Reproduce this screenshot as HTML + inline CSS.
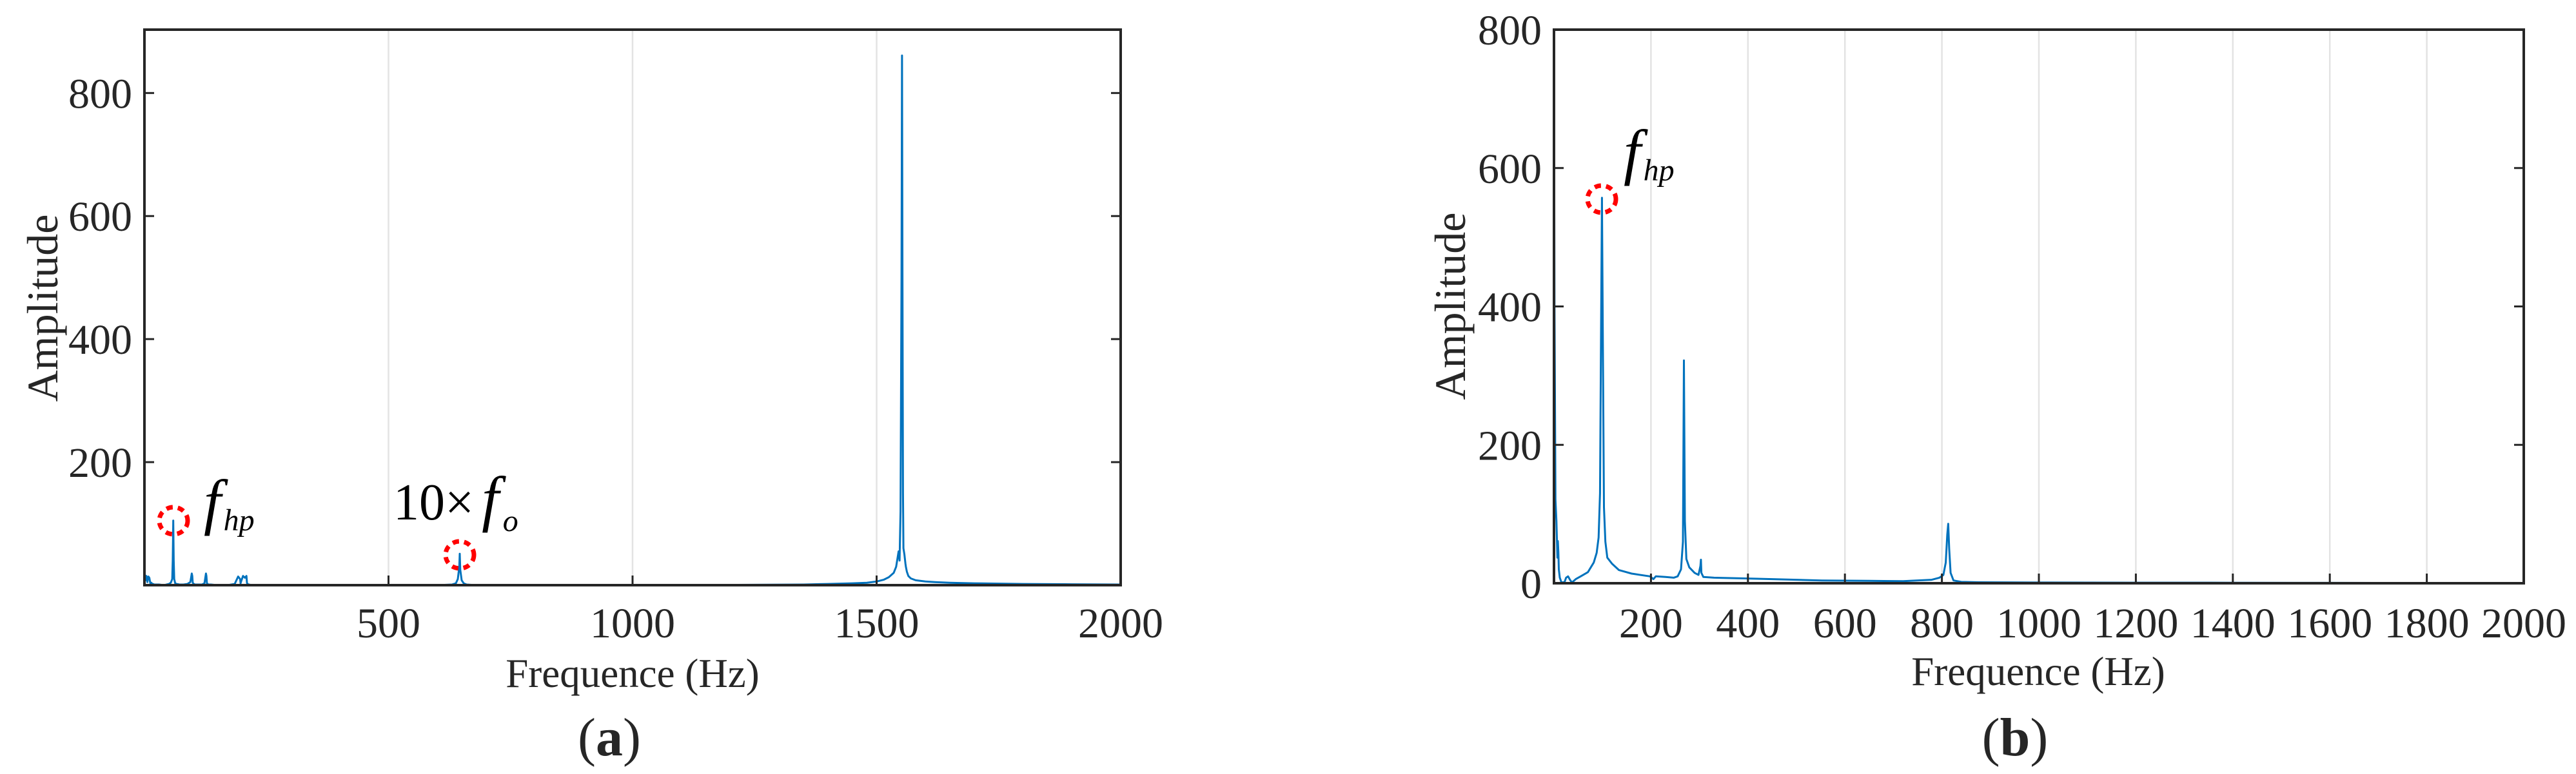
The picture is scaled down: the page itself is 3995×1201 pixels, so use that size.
<!DOCTYPE html>
<html><head><meta charset="utf-8">
<style>
html,body{margin:0;padding:0;background:#fff;}
svg{display:block;}
text{font-family:"Liberation Serif",serif;fill:#262626;}
</style></head>
<body>
<svg id="root" width="3995" height="1201" viewBox="0 0 3995 1201" xmlns="http://www.w3.org/2000/svg">
<g id="ga"></g>
<g id="gb"></g>
</svg>
<script>
// Panel (a) data
const freqA=[0,0.5,2,4,6,8,10,12,14,16,18,20,24,30,40,50,54,57,58,59,60,61,63,66,72,80,88,94,97,98,99,101,104,110,118,123,126,127,128,131,136,150,170,185,192,196,197,198,202,206,209,210,211,214,220,240,300,400,500,600,630,638,642,645,646,647,650,654,660,680,800,1000,1200,1350,1400,1450,1480,1500,1515,1525,1535,1540,1545,1547,1549,1551,1552,1553,1554,1555,1557,1559,1560,1562,1565,1570,1580,1600,1620,1650,1700,1800,1900,2000];
const ampA=[386,20,8,15,5,14,12,3,4,2,2,1,1,1,0,2,4,10,40,105,40,10,3,2,1,1,2,5,19,15,4,2,1,1,1,3,19,15,3,1,1,0,0,2,14,10,3,6,15,12,15,4,2,1,0,0,0,0,0,0,1,3,10,30,51,25,8,3,1,0,0,0,0.5,1,2,3,4,6,9,13,20,30,55,40,120,500,861,500,150,60,50,35,30,22,15,11,8,6,5,4,3,2,1.5,1];
const xTicksA=[500,1000,1500,2000];
const yTicksA=[200,400,600,800];
// Panel (b) data
const freqB=[0,1,3,5,7,8,9,10,12,15,18,22,25,29,33,37,45,55,70,82,88,92,95,97,99,101,103,106,110,120,134,160,198,205,210,230,247,255,262,266,268,270,273,279,290,298,302,303,304,308,330,392,450,553,650,720,779,795,803,808,811,813,815,818,824,840,876,1000,1200,1400,1600,1800,2000];
const ampB=[800,400,121,90,37,61,45,20,8,2,1,2,8,10,5,1,6,10,16,30,44,66,130,350,557,320,110,60,37,28,19,14,10,6,10,9,8,10,20,60,322,90,35,23,15,12,25,34,15,9,8,7,6,4,3.5,3,5,8,12,30,70,86,50,15,4,2,1.4,1,0.8,0.7,0.6,0.5,0.5];
const xTicksB=[200,400,600,800,1000,1200,1400,1600,1800,2000];
const yTicksB=[0,200,400,600,800];

const NS='http://www.w3.org/2000/svg';
function mk(parent,tag,attrs,txt){const e=document.createElementNS(NS,tag);for(const k in attrs)e.setAttribute(k,attrs[k]);if(txt!==undefined)e.textContent=txt;parent.appendChild(e);return e;}

function panel(g,cfg){
  const {L,R,T,B,xmax,ymax,freq,amp,xt,yt}=cfg;
  const sx=v=>L+(v/xmax)*(R-L);
  const sy=v=>B-(v/ymax)*(B-T);
  xt.forEach(v=>{ if(v<xmax){const l=mk(g,'line',{x1:sx(v),x2:sx(v),y1:T,y2:B,stroke:'#e3e3e3','stroke-width':2.5});
    
    }});
  let d='';
  freq.forEach((f,i)=>{d+=(i?'L':'M')+sx(f).toFixed(1)+','+sy(Math.min(amp[i],ymax)).toFixed(1);});
  const p=mk(g,'path',{d:d,fill:'none',stroke:'#0072BD','stroke-width':3,'stroke-linejoin':'round'});
  
  
  const bx=mk(g,'rect',{x:L,y:T,width:R-L,height:B-T,fill:'none',stroke:'#262626','stroke-width':4});
  
  
  yt.forEach(v=>{
    const y=sy(v);
    const t1=mk(g,'line',{x1:L,x2:L+15,y1:y,y2:y,stroke:'#262626','stroke-width':3});
    
    
    const t2=mk(g,'line',{x1:R,x2:R-15,y1:y,y2:y,stroke:'#262626','stroke-width':3});
    
    
    const lb=mk(g,'text',{x:cfg.ylabX,y:y+23,'text-anchor':'end','font-size':66},String(v));
    
    
  });
  xt.forEach(v=>{
    const x=sx(v);
    const t=mk(g,'line',{x1:x,x2:x,y1:B,y2:B-15,stroke:'#262626','stroke-width':3});
    
    
    const lb=mk(g,'text',{x:x,y:989,'text-anchor':'middle','font-size':66},String(v));
    
    
  });
}

panel(document.getElementById('ga'),{L:224,R:1738,T:46,B:908,xmax:2000,ymax:903,freq:freqA,amp:ampA,xt:xTicksA,yt:yTicksA,ylabX:205});
panel(document.getElementById('gb'),{L:2410,R:3914,T:46,B:905,xmax:2000,ymax:800,freq:freqB,amp:ampB,xt:xTicksB,yt:yTicksB,ylabX:2391});
</script>
<svg width="3995" height="1201" style="position:absolute;left:0;top:0" xmlns="http://www.w3.org/2000/svg">
<text x="67" y="478" font-size="68" text-anchor="middle" transform="rotate(-90 67 478)" dy="22">Amplitude</text>
<text x="981" y="1066" font-size="63" text-anchor="middle">Frequence (Hz)</text>
<text x="945" y="1172" font-size="84" text-anchor="middle">(<tspan font-weight="bold">a</tspan>)</text>
<text x="2250" y="475" font-size="68" text-anchor="middle" transform="rotate(-90 2250 475)" dy="22">Amplitude</text>
<text x="3161" y="1063" font-size="63" text-anchor="middle">Frequence (Hz)</text>
<text x="3125" y="1172" font-size="84" text-anchor="middle">(<tspan font-weight="bold">b</tspan>)</text>

<ellipse cx="269" cy="808" rx="22" ry="21" fill="none" stroke="#ff0000" stroke-width="7" stroke-dasharray="10 8"/>
<text x="316" y="811" font-size="96" font-style="italic" style="fill:#000">f<tspan font-size="48" dy="12" dx="4">hp</tspan></text>
<ellipse cx="713" cy="861" rx="22" ry="21" fill="none" stroke="#ff0000" stroke-width="7" stroke-dasharray="10 8"/>
<text x="610" y="806" font-size="80" style="fill:#000">10×<tspan font-style="italic" font-size="96" dx="12">f</tspan><tspan font-style="italic" font-size="48" dy="18" dx="6">o</tspan></text>

<ellipse cx="2484" cy="309" rx="22" ry="21" fill="none" stroke="#ff0000" stroke-width="7" stroke-dasharray="10 8"/>
<text x="2518" y="268" font-size="96" font-style="italic" style="fill:#000">f<tspan font-size="48" dy="12" dx="4">hp</tspan></text>
</svg>
</body></html>
